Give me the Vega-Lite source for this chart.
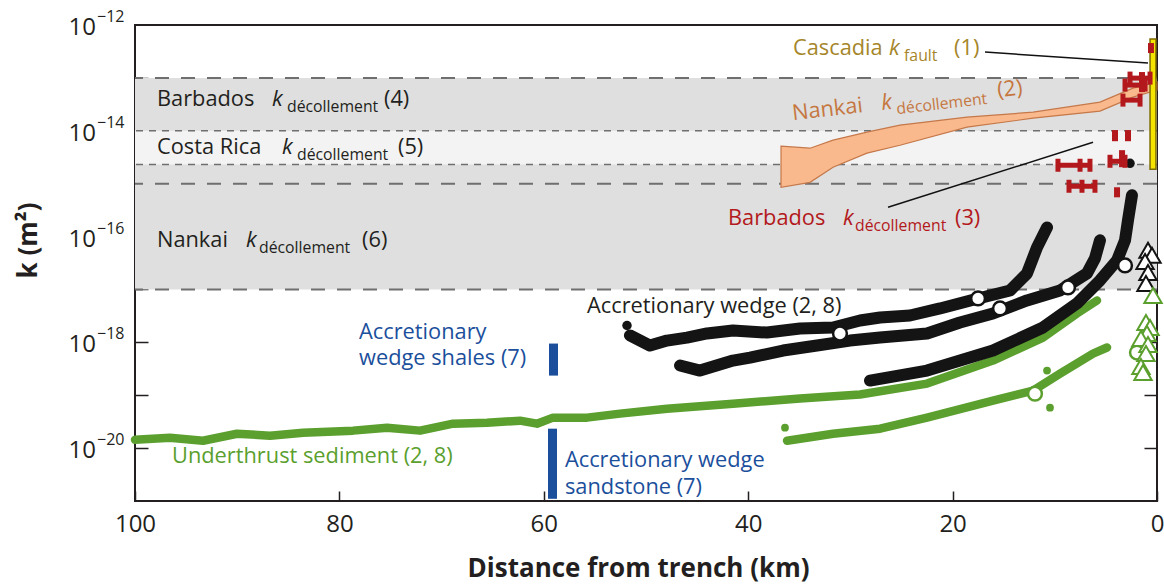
{
  "$schema": "https://vega.github.io/schema/vega-lite/v6.json",
  "width": 1022,
  "height": 476,
  "autosize": {"type": "none"},
  "padding": {"left": 135, "top": 25, "right": 7, "bottom": 84},
  "config": {"view": {"stroke": "#231f20", "strokeWidth": 2}, "font": "Open Sans"},
  "resolve": {"axis": {"x": "independent", "y": "independent"}},
  "datasets": {
    "bandWide": [{"hi": 1e-13, "lo": 1e-17}],
    "bandCosta": [{"hi": 1e-14, "lo": 2.3e-15}],
    "dashLong": [{"k": 1e-13}, {"k": 1e-15}, {"k": 1e-17}],
    "dashShort": [{"k": 1e-14}, {"k": 2.3e-15}],
    "nankai2": [
      {"km": 36.79, "hi": 5.11e-15, "lo": 8.55e-16},
      {"km": 33.95, "hi": 4.68e-15, "lo": 1.06e-15},
      {"km": 31.70, "hi": 6.64e-15, "lo": 2.05e-15},
      {"km": 28.38, "hi": 9.40e-15, "lo": 3.77e-15},
      {"km": 25.15, "hi": 1.28e-14, "lo": 5.33e-15},
      {"km": 18.59, "hi": 1.81e-14, "lo": 1.17e-14},
      {"km": 12.13, "hi": 2.25e-14, "lo": 1.73e-14},
      {"km": 5.58, "hi": 3.48e-14, "lo": 2.35e-14},
      {"km": 2.35, "hi": 6.41e-14, "lo": 4.33e-14},
      {"km": 0.0, "hi": 8.32e-14, "lo": 5.87e-14}
    ],
    "leaders": [
      {"km1": 16.83, "k1": 3.08e-13, "km2": 0.88, "k2": 1.91e-13},
      {"km1": 26.32, "k1": 3.57e-16, "km2": 6.26, "k2": 6.08e-15}
    ],
    "wedge": [
      {"curve": "A", "km": 51.57, "k": 1.35e-18},
      {"curve": "A", "km": 49.61, "k": 8.69e-19},
      {"curve": "A", "km": 47.95, "k": 1.08e-18},
      {"curve": "A", "km": 45.99, "k": 1.23e-18},
      {"curve": "A", "km": 44.03, "k": 1.47e-18},
      {"curve": "A", "km": 41.49, "k": 1.67e-18},
      {"curve": "A", "km": 38.16, "k": 1.53e-18},
      {"curve": "A", "km": 34.93, "k": 1.82e-18},
      {"curve": "A", "km": 31.70, "k": 1.91e-18},
      {"curve": "A", "km": 29.06, "k": 2.59e-18},
      {"curve": "A", "km": 27.10, "k": 2.95e-18},
      {"curve": "A", "km": 24.17, "k": 3.22e-18},
      {"curve": "A", "km": 21.23, "k": 4.37e-18},
      {"curve": "A", "km": 17.51, "k": 6.76e-18},
      {"curve": "A", "km": 14.38, "k": 9.57e-18},
      {"curve": "A", "km": 12.72, "k": 2.01e-17},
      {"curve": "A", "km": 11.74, "k": 6.24e-17},
      {"curve": "A", "km": 10.76, "k": 1.49e-16},
      {"curve": "B", "km": 46.67, "k": 3.64e-19},
      {"curve": "B", "km": 44.72, "k": 2.92e-19},
      {"curve": "B", "km": 41.49, "k": 4.52e-19},
      {"curve": "B", "km": 39.82, "k": 5.15e-19},
      {"curve": "B", "km": 36.59, "k": 7.00e-19},
      {"curve": "B", "km": 33.27, "k": 8.69e-19},
      {"curve": "B", "km": 30.04, "k": 1.08e-18},
      {"curve": "B", "km": 27.10, "k": 1.23e-18},
      {"curve": "B", "km": 22.50, "k": 1.47e-18},
      {"curve": "B", "km": 19.28, "k": 2.37e-18},
      {"curve": "B", "km": 16.05, "k": 3.51e-18},
      {"curve": "B", "km": 12.72, "k": 6.19e-18},
      {"curve": "B", "km": 9.49, "k": 9.57e-18},
      {"curve": "B", "km": 6.85, "k": 2.01e-17},
      {"curve": "B", "km": 6.07, "k": 3.86e-17},
      {"curve": "B", "km": 5.58, "k": 8.47e-17},
      {"curve": "C", "km": 28.08, "k": 1.89e-19},
      {"curve": "C", "km": 22.50, "k": 2.92e-19},
      {"curve": "C", "km": 16.05, "k": 7.00e-19},
      {"curve": "C", "km": 11.15, "k": 1.91e-18},
      {"curve": "C", "km": 7.83, "k": 5.43e-18},
      {"curve": "C", "km": 5.58, "k": 1.48e-17},
      {"curve": "C", "km": 3.91, "k": 3.54e-17},
      {"curve": "C", "km": 3.13, "k": 8.47e-17},
      {"curve": "C", "km": 2.84, "k": 2.03e-16},
      {"curve": "C", "km": 2.45, "k": 6.03e-16}
    ],
    "wedgeDots": [{"km": 51.86, "k": 2.08e-18}, {"km": 2.64, "k": 2.43e-15}],
    "sediment": [
      {"curve": "A", "km": 100.0, "k": 1.44e-20},
      {"curve": "A", "km": 96.58, "k": 1.57e-20},
      {"curve": "A", "km": 93.35, "k": 1.38e-20},
      {"curve": "A", "km": 90.02, "k": 1.87e-20},
      {"curve": "A", "km": 86.79, "k": 1.72e-20},
      {"curve": "A", "km": 83.56, "k": 1.96e-20},
      {"curve": "A", "km": 78.67, "k": 2.14e-20},
      {"curve": "A", "km": 75.34, "k": 2.43e-20},
      {"curve": "A", "km": 72.11, "k": 2.14e-20},
      {"curve": "A", "km": 68.88, "k": 2.90e-20},
      {"curve": "A", "km": 65.56, "k": 3.03e-20},
      {"curve": "A", "km": 62.33, "k": 3.30e-20},
      {"curve": "A", "km": 60.67, "k": 2.90e-20},
      {"curve": "A", "km": 59.10, "k": 3.77e-20},
      {"curve": "A", "km": 55.77, "k": 3.77e-20},
      {"curve": "A", "km": 52.54, "k": 4.49e-20},
      {"curve": "A", "km": 47.95, "k": 5.57e-20},
      {"curve": "A", "km": 41.49, "k": 6.93e-20},
      {"curve": "A", "km": 34.93, "k": 8.63e-20},
      {"curve": "A", "km": 29.06, "k": 1.03e-19},
      {"curve": "A", "km": 22.50, "k": 1.66e-19},
      {"curve": "A", "km": 16.05, "k": 4.52e-19},
      {"curve": "A", "km": 11.15, "k": 1.23e-18},
      {"curve": "A", "km": 7.83, "k": 3.51e-18},
      {"curve": "A", "km": 5.87, "k": 6.19e-18},
      {"curve": "B", "km": 36.20, "k": 1.38e-20},
      {"curve": "B", "km": 31.70, "k": 1.87e-20},
      {"curve": "B", "km": 27.10, "k": 2.33e-20},
      {"curve": "B", "km": 22.50, "k": 3.77e-20},
      {"curve": "B", "km": 16.05, "k": 7.91e-20},
      {"curve": "B", "km": 12.13, "k": 1.22e-19},
      {"curve": "B", "km": 9.49, "k": 2.56e-19},
      {"curve": "B", "km": 6.26, "k": 6.14e-19},
      {"curve": "B", "km": 4.89, "k": 7.98e-19}
    ],
    "sedDots": [{"km": 36.40, "k": 2.43e-20}, {"km": 10.76, "k": 2.92e-19}, {"km": 10.47, "k": 5.82e-20}],
    "circles": [
      {"km": 31.02, "k": 1.47e-18},
      {"km": 17.51, "k": 6.76e-18},
      {"km": 15.36, "k": 4.37e-18},
      {"km": 8.71, "k": 1.09e-17},
      {"km": 3.13, "k": 2.85e-17}
    ],
    "gcircles": [{"km": 11.94, "k": 1.07e-19}, {"km": 1.96, "k": 6.41e-19}],
    "triBlack": [
      {"km": 0.88, "k": 5.48e-17},
      {"km": 0.49, "k": 4.41e-17},
      {"km": 1.17, "k": 3.39e-17},
      {"km": 0.88, "k": 2.10e-17},
      {"km": 1.08, "k": 1.30e-17}
    ],
    "triGreen": [
      {"km": 0.39, "k": 7.69e-18},
      {"km": 1.08, "k": 2.37e-18},
      {"km": 0.68, "k": 1.91e-18},
      {"km": 0.98, "k": 1.47e-18},
      {"km": 1.57, "k": 1.18e-18},
      {"km": 0.88, "k": 9.08e-19},
      {"km": 1.08, "k": 6.14e-19},
      {"km": 1.57, "k": 3.48e-19},
      {"km": 1.37, "k": 2.68e-19}
    ],
    "cascadia": [{"km1": 0.68, "km2": 0.1, "hi": 5.43e-13, "lo": 1.87e-15}],
    "wedge7": [
      {"km1": 59.49, "km2": 58.61, "hi": 9.48e-19, "lo": 2.35e-19},
      {"km1": 59.59, "km2": 58.71, "hi": 2.33e-20, "lo": 1.1e-21}
    ],
    "barbH": [
      {"km1": 2.64, "km2": 0.68, "k": 9.91e-14},
      {"km1": 3.13, "km2": 1.17, "k": 7.31e-14},
      {"km1": 3.33, "km2": 1.66, "k": 3.80e-14},
      {"km1": 4.60, "km2": 3.13, "k": 2.65e-15},
      {"km1": 9.69, "km2": 6.56, "k": 2.23e-15},
      {"km1": 8.61, "km2": 6.07, "k": 8.93e-16}
    ],
    "barbCaps": [
      {"km": 2.64, "k": 9.91e-14}, {"km": 0.68, "k": 9.91e-14},
      {"km": 3.13, "k": 7.31e-14}, {"km": 1.17, "k": 7.31e-14},
      {"km": 3.33, "k": 3.80e-14}, {"km": 1.66, "k": 3.80e-14},
      {"km": 4.60, "k": 2.65e-15}, {"km": 3.13, "k": 2.65e-15},
      {"km": 9.69, "k": 2.23e-15}, {"km": 7.53, "k": 2.23e-15}, {"km": 6.56, "k": 2.23e-15},
      {"km": 8.61, "k": 8.93e-16}, {"km": 7.34, "k": 8.93e-16}, {"km": 6.07, "k": 8.93e-16}
    ],
    "barbV": [
      {"km": 0.59, "k1": 4.56e-13, "k2": 2.95e-13},
      {"km": 1.47, "k1": 1.29e-13, "k2": 5.38e-14},
      {"km": 4.11, "k1": 1.03e-14, "k2": 6.35e-15},
      {"km": 2.84, "k1": 1.03e-14, "k2": 6.35e-15},
      {"km": 3.42, "k1": 4.30e-15, "k2": 2.05e-15},
      {"km": 3.91, "k1": 8.55e-16, "k2": 5.52e-16}
    ],
    "txt": [
      {"t": "Barbados", "km": 97.85, "k": 2.92e-14, "s": "ranges"},
      {"t": "(4)", "km": 75.64, "k": 2.92e-14, "s": "ranges"},
      {"t": "Costa Rica", "km": 97.85, "k": 3.61e-15, "s": "ranges"},
      {"t": "(5)", "km": 74.27, "k": 3.61e-15, "s": "ranges"},
      {"t": "Nankai", "km": 97.85, "k": 6.24e-17, "s": "ranges"},
      {"t": "(6)", "km": 77.79, "k": 6.24e-17, "s": "ranges"},
      {"t": "Cascadia", "km": 35.62, "k": 2.70e-13, "s": "cascadia"},
      {"t": "(1)", "km": 19.86, "k": 2.70e-13, "s": "cascadia"},
      {"t": "Barbados", "km": 41.98, "k": 1.63e-16, "s": "barbados3"},
      {"t": "(3)", "km": 19.77, "k": 1.63e-16, "s": "barbados3"},
      {"t": "Accretionary wedge (2, 8)", "km": 55.77, "k": 3.51e-18, "s": "wedge28"},
      {"t": "Accretionary", "km": 78.08, "k": 1.18e-18, "s": "wedge7"},
      {"t": "wedge shales (7)", "km": 78.08, "k": 3.80e-19, "s": "wedge7"},
      {"t": "Accretionary wedge", "km": 57.93, "k": 4.45e-21, "s": "wedge7"},
      {"t": "sandstone (7)", "km": 57.93, "k": 1.37e-21, "s": "wedge7"},
      {"t": "Underthrust sediment (2, 8)", "km": 96.38, "k": 5.28e-21, "s": "underthrust"}
    ],
    "txtK": [
      {"t": "k", "km": 86.59, "k": 2.92e-14, "s": "ranges"},
      {"t": "k", "km": 85.62, "k": 3.61e-15, "s": "ranges"},
      {"t": "k", "km": 89.14, "k": 6.24e-17, "s": "ranges"},
      {"t": "k", "km": 26.22, "k": 2.70e-13, "s": "cascadia"},
      {"t": "k", "km": 30.72, "k": 1.63e-16, "s": "barbados3"}
    ],
    "txtSub": [
      {"t": "décollement", "km": 85.13, "k": 2.25e-14, "s": "ranges"},
      {"t": "décollement", "km": 84.15, "k": 2.77e-15, "s": "ranges"},
      {"t": "décollement", "km": 87.87, "k": 4.81e-17, "s": "ranges"},
      {"t": "fault", "km": 24.75, "k": 2.08e-13, "s": "cascadia"},
      {"t": "décollement", "km": 29.55, "k": 1.25e-16, "s": "barbados3"}
    ],
    "rotTxt": [
      {"t": "Nankai", "km": 35.62, "k": 1.59e-14},
      {"t": "(2)", "km": 15.56, "k": 4.33e-14}
    ],
    "rotK": [{"t": "k", "km": 26.91, "k": 2.46e-14}],
    "rotSub": [{"t": "décollement", "km": 25.44, "k": 2.06e-14}],
    "yLabels": [
      {"k": 1e-12, "b": "10", "e": "−12"},
      {"k": 1e-14, "b": "10", "e": "−14"},
      {"k": 1e-16, "b": "10", "e": "−16"},
      {"k": 1e-18, "b": "10", "e": "−18"},
      {"k": 1e-20, "b": "10", "e": "−20"}
    ]
  },
  "layer": [
    {
      "data": {"name": "bandWide"},
      "mark": {"type": "rect", "fill": "#dfdfdf"},
      "encoding": {
        "x": {"datum": 100, "type": "quantitative", "scale": {"domain": [0, 100], "reverse": true, "nice": false, "zero": false}, "axis": null},
        "x2": {"datum": 0},
        "y": {"field": "hi", "type": "quantitative", "scale": {"type": "log", "domain": [1e-21, 1e-12], "nice": false}, "axis": null},
        "y2": {"field": "lo"}
      }
    },
    {
      "data": {"name": "bandCosta"},
      "mark": {"type": "rect", "fill": "#f3f3f3"},
      "encoding": {
        "x": {"datum": 100, "type": "quantitative", "scale": {"domain": [0, 100], "reverse": true, "nice": false, "zero": false}, "axis": null},
        "x2": {"datum": 0},
        "y": {"field": "hi", "type": "quantitative", "scale": {"type": "log", "domain": [1e-21, 1e-12], "nice": false}, "axis": null},
        "y2": {"field": "lo"}
      }
    },
    {
      "data": {"name": "dashLong"},
      "mark": {"type": "rule", "color": "#6f6f6f", "strokeWidth": 2, "strokeDash": [14, 12]},
      "encoding": {
        "y": {"field": "k", "type": "quantitative", "scale": {"type": "log", "domain": [1e-21, 1e-12], "nice": false}, "axis": null}
      }
    },
    {
      "data": {"name": "dashShort"},
      "mark": {"type": "rule", "color": "#6f6f6f", "strokeWidth": 1.5, "strokeDash": [7, 6]},
      "encoding": {
        "y": {"field": "k", "type": "quantitative", "scale": {"type": "log", "domain": [1e-21, 1e-12], "nice": false}, "axis": null}
      }
    },
    {
      "data": {"name": "nankai2"},
      "mark": {"type": "area", "fill": "#f9b98c", "stroke": "#c5784a", "strokeWidth": 1.2, "opacity": 1},
      "encoding": {
        "x": {"field": "km", "type": "quantitative", "scale": {"domain": [0, 100], "reverse": true, "nice": false, "zero": false}, "axis": null},
        "y": {"field": "hi", "type": "quantitative", "scale": {"type": "log", "domain": [1e-21, 1e-12], "nice": false}, "axis": null},
        "y2": {"field": "lo"}
      }
    },
    {
      "data": {"name": "leaders"},
      "mark": {"type": "rule", "color": "#111111", "strokeWidth": 1.5},
      "encoding": {
        "x": {"field": "km1", "type": "quantitative", "scale": {"domain": [0, 100], "reverse": true, "nice": false, "zero": false}, "axis": null},
        "x2": {"field": "km2"},
        "y": {"field": "k1", "type": "quantitative", "scale": {"type": "log", "domain": [1e-21, 1e-12], "nice": false}, "axis": null},
        "y2": {"field": "k2"}
      }
    },
    {
      "data": {"name": "sediment"},
      "mark": {"type": "line", "color": "#5b9f2e", "strokeWidth": 8.5, "strokeCap": "round", "strokeJoin": "round"},
      "encoding": {
        "x": {"field": "km", "type": "quantitative", "scale": {"domain": [0, 100], "reverse": true, "nice": false, "zero": false},
          "axis": {"orient": "bottom", "values": [100, 80, 60, 40, 20, 0], "tickSize": -10, "tickWidth": 1.5, "tickColor": "#231f20", "domain": false, "grid": false,
            "labelFontSize": 24, "labelFont": "Open Sans", "labelColor": "#231f20", "labelPadding": 21, "labelFlush": false, "labelOverlap": false,
            "title": "Distance from trench (km)", "titleFont": "Open Sans", "titleFontSize": 26, "titleFontWeight": "bold", "titleColor": "#231f20",
            "titleX": 503, "titleY": 75, "titleAlign": "center", "titleBaseline": "alphabetic"}},
        "y": {"field": "k", "type": "quantitative", "scale": {"type": "log", "domain": [1e-21, 1e-12], "nice": false},
          "axis": {"orient": "left", "values": [1e-20, 1e-19, 1e-18, 1e-17, 1e-16, 1e-15, 1e-14, 1e-13], "tickSize": -13, "tickWidth": 1.5, "tickColor": "#231f20", "domain": false, "grid": false, "labels": false,
            "title": "k (m²)", "titleFont": "Open Sans", "titleFontSize": 26, "titleFontWeight": "bold", "titleColor": "#231f20",
            "titleX": -107, "titleY": 215, "titleAngle": -90, "titleAlign": "center", "titleBaseline": "middle"}},
        "detail": {"field": "curve"}
      }
    },
    {
      "data": {"name": "sedDots"},
      "mark": {"type": "point", "shape": "circle", "filled": true, "color": "#5b9f2e", "size": 60, "opacity": 1},
      "encoding": {
        "x": {"field": "km", "type": "quantitative", "scale": {"domain": [0, 100], "reverse": true, "nice": false, "zero": false}, "axis": null},
        "y": {"field": "k", "type": "quantitative", "scale": {"type": "log", "domain": [1e-21, 1e-12], "nice": false}, "axis": null}
      }
    },
    {
      "data": {"name": "wedge"},
      "mark": {"type": "line", "color": "#141414", "strokeWidth": 12, "strokeCap": "round", "strokeJoin": "round"},
      "encoding": {
        "x": {"field": "km", "type": "quantitative", "scale": {"domain": [0, 100], "reverse": true, "nice": false, "zero": false}, "axis": null},
        "y": {"field": "k", "type": "quantitative", "scale": {"type": "log", "domain": [1e-21, 1e-12], "nice": false},
          "axis": {"orient": "right", "values": [1e-20, 1e-19, 1e-18, 1e-17, 1e-16, 1e-15, 1e-14, 1e-13], "tickSize": -13, "tickWidth": 1.5, "tickColor": "#231f20", "domain": false, "grid": false, "labels": false, "title": null}},
        "detail": {"field": "curve"}
      }
    },
    {
      "data": {"name": "wedgeDots"},
      "mark": {"type": "point", "shape": "circle", "filled": true, "color": "#141414", "size": 90, "opacity": 1},
      "encoding": {
        "x": {"field": "km", "type": "quantitative", "scale": {"domain": [0, 100], "reverse": true, "nice": false, "zero": false}, "axis": null},
        "y": {"field": "k", "type": "quantitative", "scale": {"type": "log", "domain": [1e-21, 1e-12], "nice": false}, "axis": null}
      }
    },
    {
      "data": {"name": "circles"},
      "mark": {"type": "point", "shape": "circle", "fill": "#ffffff", "stroke": "#141414", "strokeWidth": 2.5, "size": 190, "opacity": 1},
      "encoding": {
        "x": {"field": "km", "type": "quantitative", "scale": {"domain": [0, 100], "reverse": true, "nice": false, "zero": false}, "axis": null},
        "y": {"field": "k", "type": "quantitative", "scale": {"type": "log", "domain": [1e-21, 1e-12], "nice": false}, "axis": null}
      }
    },
    {
      "data": {"name": "gcircles"},
      "mark": {"type": "point", "shape": "circle", "fill": "#ffffff", "stroke": "#5b9f2e", "strokeWidth": 2.5, "size": 190, "opacity": 1},
      "encoding": {
        "x": {"field": "km", "type": "quantitative", "scale": {"domain": [0, 100], "reverse": true, "nice": false, "zero": false}, "axis": null},
        "y": {"field": "k", "type": "quantitative", "scale": {"type": "log", "domain": [1e-21, 1e-12], "nice": false}, "axis": null}
      }
    },
    {
      "data": {"name": "triBlack"},
      "mark": {"type": "point", "shape": "triangle-up", "fill": "#ffffff", "stroke": "#141414", "strokeWidth": 2, "size": 300, "opacity": 1},
      "encoding": {
        "x": {"field": "km", "type": "quantitative", "scale": {"domain": [0, 100], "reverse": true, "nice": false, "zero": false}, "axis": null},
        "y": {"field": "k", "type": "quantitative", "scale": {"type": "log", "domain": [1e-21, 1e-12], "nice": false}, "axis": null}
      }
    },
    {
      "data": {"name": "triGreen"},
      "mark": {"type": "point", "shape": "triangle-up", "fill": "#ffffff", "stroke": "#5b9f2e", "strokeWidth": 2, "size": 300, "opacity": 1},
      "encoding": {
        "x": {"field": "km", "type": "quantitative", "scale": {"domain": [0, 100], "reverse": true, "nice": false, "zero": false}, "axis": null},
        "y": {"field": "k", "type": "quantitative", "scale": {"type": "log", "domain": [1e-21, 1e-12], "nice": false}, "axis": null}
      }
    },
    {
      "data": {"name": "cascadia"},
      "mark": {"type": "rect", "fill": "#f5e400", "stroke": "#7d6a00", "strokeWidth": 1.5},
      "encoding": {
        "x": {"field": "km1", "type": "quantitative", "scale": {"domain": [0, 100], "reverse": true, "nice": false, "zero": false}, "axis": null},
        "x2": {"field": "km2"},
        "y": {"field": "hi", "type": "quantitative", "scale": {"type": "log", "domain": [1e-21, 1e-12], "nice": false}, "axis": null},
        "y2": {"field": "lo"}
      }
    },
    {
      "data": {"name": "wedge7"},
      "mark": {"type": "rect", "fill": "#1b4f9c"},
      "encoding": {
        "x": {"field": "km1", "type": "quantitative", "scale": {"domain": [0, 100], "reverse": true, "nice": false, "zero": false}, "axis": null},
        "x2": {"field": "km2"},
        "y": {"field": "hi", "type": "quantitative", "scale": {"type": "log", "domain": [1e-21, 1e-12], "nice": false}, "axis": null},
        "y2": {"field": "lo"}
      }
    },
    {
      "data": {"name": "barbH"},
      "mark": {"type": "rule", "color": "#b3191c", "strokeWidth": 5},
      "encoding": {
        "x": {"field": "km1", "type": "quantitative", "scale": {"domain": [0, 100], "reverse": true, "nice": false, "zero": false}, "axis": null},
        "x2": {"field": "km2"},
        "y": {"field": "k", "type": "quantitative", "scale": {"type": "log", "domain": [1e-21, 1e-12], "nice": false}, "axis": null}
      }
    },
    {
      "data": {"name": "barbCaps"},
      "mark": {"type": "tick", "orient": "vertical", "color": "#b3191c", "size": 13, "thickness": 5, "opacity": 1},
      "encoding": {
        "x": {"field": "km", "type": "quantitative", "scale": {"domain": [0, 100], "reverse": true, "nice": false, "zero": false}, "axis": null},
        "y": {"field": "k", "type": "quantitative", "scale": {"type": "log", "domain": [1e-21, 1e-12], "nice": false}, "axis": null}
      }
    },
    {
      "data": {"name": "barbV"},
      "mark": {"type": "rule", "color": "#b3191c", "strokeWidth": 6},
      "encoding": {
        "x": {"field": "km", "type": "quantitative", "scale": {"domain": [0, 100], "reverse": true, "nice": false, "zero": false}, "axis": null},
        "y": {"field": "k1", "type": "quantitative", "scale": {"type": "log", "domain": [1e-21, 1e-12], "nice": false}, "axis": null},
        "y2": {"field": "k2"}
      }
    },
    {
      "data": {"name": "txt"},
      "mark": {"type": "text", "font": "Open Sans", "fontSize": 21.8, "align": "left", "baseline": "alphabetic"},
      "encoding": {
        "x": {"field": "km", "type": "quantitative", "scale": {"domain": [0, 100], "reverse": true, "nice": false, "zero": false}, "axis": null},
        "y": {"field": "k", "type": "quantitative", "scale": {"type": "log", "domain": [1e-21, 1e-12], "nice": false}, "axis": null},
        "text": {"field": "t"},
        "color": {"field": "s", "type": "nominal", "legend": null, "scale": {"domain": ["ranges", "cascadia", "barbados3", "wedge28", "wedge7", "underthrust"], "range": ["#231f20", "#a5862a", "#b3191c", "#231f20", "#1b4f9c", "#5b9f2e"]}}
      }
    },
    {
      "data": {"name": "txtK"},
      "mark": {"type": "text", "font": "Open Sans", "fontSize": 21.8, "fontStyle": "italic", "align": "left", "baseline": "alphabetic"},
      "encoding": {
        "x": {"field": "km", "type": "quantitative", "scale": {"domain": [0, 100], "reverse": true, "nice": false, "zero": false}, "axis": null},
        "y": {"field": "k", "type": "quantitative", "scale": {"type": "log", "domain": [1e-21, 1e-12], "nice": false}, "axis": null},
        "text": {"field": "t"},
        "color": {"field": "s", "type": "nominal", "legend": null, "scale": {"domain": ["ranges", "cascadia", "barbados3", "wedge28", "wedge7", "underthrust"], "range": ["#231f20", "#a5862a", "#b3191c", "#231f20", "#1b4f9c", "#5b9f2e"]}}
      }
    },
    {
      "data": {"name": "txtSub"},
      "mark": {"type": "text", "font": "Open Sans", "fontSize": 15.8, "align": "left", "baseline": "alphabetic"},
      "encoding": {
        "x": {"field": "km", "type": "quantitative", "scale": {"domain": [0, 100], "reverse": true, "nice": false, "zero": false}, "axis": null},
        "y": {"field": "k", "type": "quantitative", "scale": {"type": "log", "domain": [1e-21, 1e-12], "nice": false}, "axis": null},
        "text": {"field": "t"},
        "color": {"field": "s", "type": "nominal", "legend": null, "scale": {"domain": ["ranges", "cascadia", "barbados3", "wedge28", "wedge7", "underthrust"], "range": ["#231f20", "#a5862a", "#b3191c", "#231f20", "#1b4f9c", "#5b9f2e"]}}
      }
    },
    {
      "data": {"name": "rotTxt"},
      "mark": {"type": "text", "font": "Open Sans", "fontSize": 21.8, "align": "left", "baseline": "alphabetic", "angle": 353.5, "color": "#c5773f"},
      "encoding": {
        "x": {"field": "km", "type": "quantitative", "scale": {"domain": [0, 100], "reverse": true, "nice": false, "zero": false}, "axis": null},
        "y": {"field": "k", "type": "quantitative", "scale": {"type": "log", "domain": [1e-21, 1e-12], "nice": false}, "axis": null},
        "text": {"field": "t"}
      }
    },
    {
      "data": {"name": "rotK"},
      "mark": {"type": "text", "font": "Open Sans", "fontSize": 21.8, "fontStyle": "italic", "align": "left", "baseline": "alphabetic", "angle": 353.5, "color": "#c5773f"},
      "encoding": {
        "x": {"field": "km", "type": "quantitative", "scale": {"domain": [0, 100], "reverse": true, "nice": false, "zero": false}, "axis": null},
        "y": {"field": "k", "type": "quantitative", "scale": {"type": "log", "domain": [1e-21, 1e-12], "nice": false}, "axis": null},
        "text": {"field": "t"}
      }
    },
    {
      "data": {"name": "rotSub"},
      "mark": {"type": "text", "font": "Open Sans", "fontSize": 15.8, "align": "left", "baseline": "alphabetic", "angle": 353.5, "color": "#c5773f"},
      "encoding": {
        "x": {"field": "km", "type": "quantitative", "scale": {"domain": [0, 100], "reverse": true, "nice": false, "zero": false}, "axis": null},
        "y": {"field": "k", "type": "quantitative", "scale": {"type": "log", "domain": [1e-21, 1e-12], "nice": false}, "axis": null},
        "text": {"field": "t"}
      }
    },
    {
      "data": {"name": "yLabels"},
      "mark": {"type": "text", "font": "Open Sans", "fontSize": 24, "align": "right", "baseline": "middle", "dx": -39, "dy": 3, "color": "#231f20"},
      "encoding": {
        "x": {"datum": 100, "type": "quantitative", "scale": {"domain": [0, 100], "reverse": true, "nice": false, "zero": false}, "axis": null},
        "y": {"field": "k", "type": "quantitative", "scale": {"type": "log", "domain": [1e-21, 1e-12], "nice": false}, "axis": null},
        "text": {"field": "b"}
      }
    },
    {
      "data": {"name": "yLabels"},
      "mark": {"type": "text", "font": "Open Sans", "fontSize": 16, "align": "left", "baseline": "middle", "dx": -38, "dy": -8, "color": "#231f20"},
      "encoding": {
        "x": {"datum": 100, "type": "quantitative", "scale": {"domain": [0, 100], "reverse": true, "nice": false, "zero": false}, "axis": null},
        "y": {"field": "k", "type": "quantitative", "scale": {"type": "log", "domain": [1e-21, 1e-12], "nice": false}, "axis": null},
        "text": {"field": "e"}
      }
    }
  ]
}
